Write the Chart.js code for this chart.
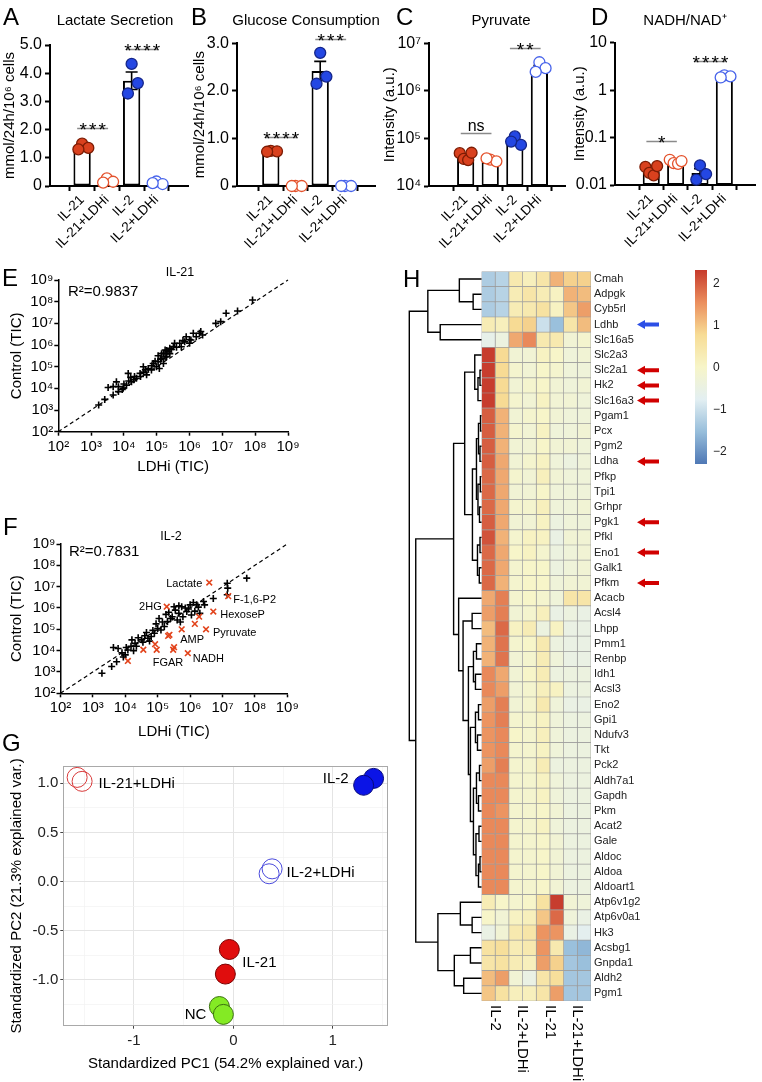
<!DOCTYPE html>
<html><head><meta charset="utf-8">
<script src="https://cdn.jsdelivr.net/npm/chart.js@4.4.1/dist/chart.umd.min.js"></script>
<style>
html,body{margin:0;padding:0;background:#fff;}
#wrap{position:relative;width:762px;height:1082px;overflow:hidden;font-family:"Liberation Sans",Arial,Helvetica,sans-serif;color:#000;background:#fff;}
canvas{position:absolute;}
.t{position:absolute;white-space:nowrap;line-height:1;}
</style></head><body><div id="wrap"></div>
<script>
// ===================== DATA =====================
const barCats = ['IL-21','IL-21+LDHi','IL-2','IL-2+LDHi'];

const lactateMean = [1.38, 0.14, 3.73, 0.08];
const lactateSem  = [0.06, 0.05, 0.31, 0.03];
const lactateDots = [[1.50,1.35,1.30],[0.27,0.15,0.12],[4.33,3.65,3.28],[0.16,0.07,0.10]];
const lactateTicks = [0,1,2,3,4,5];
const lactateSig = [[0,1,2.06,'***'],[2,3,4.85,'****']];

const glucoseMean = [0.72, 0.01, 2.42, 0.01];
const glucoseSem  = [0.02, 0, 0.20, 0];
const glucoseDots = [[0.74,0.73,0.72],[0.0,0.0,0.0],[2.80,2.30,2.15],[0.0,0.0,0.0]];
const glucoseTicks = [0,1,2,3];
const glucoseSig = [[0,1,1.02,'****'],[2,3,3.09,'***']];

const pyruvateMean = [4.1e4, 3.2e4, 8.2e4, 3.0e6];
const pyruvateSem  = [3e3, 1.5e3, 9e3, 4e5];
const pyruvateDots = [[4.9e4,3.7e4,3.5e4,5.0e4],[3.6e4,3.3e4,3.8e4],[1.1e5,7.3e4,8.6e4],[4.0e6,3.0e6,2.5e6]];
const pyruvateTicks = [1e4,1e5,1e6,1e7];
const pyruvateSig = [[0,1,1.32e5,'ns'],[2,3,7.8e6,'**']];

const nadhMean = [0.019, 0.027, 0.018, 1.9];
const nadhSem  = [0.002, 0.0015, 0.004, 0.08];
const nadhDots = [[0.024,0.018,0.016,0.025],[0.034,0.029,0.028,0.032],[0.026,0.017,0.013],[2.05,1.95,1.85]];
const nadhTicks = [0.01,0.1,1,10];
const nadhSig = [[0,1,0.085,'*'],[2,3,4.1,'****']];

const ticTicks = [1e2,1e3,1e4,1e5,1e6,1e7,1e8,1e9];
const diagLine = [1e2, 1e9];

const eLDHi = [1.7e3,2.6e3,4.7e3,6.8e3,3.3e3,4.7e3,6.8e3,9.5e3,1.2e4,1.7e4,
               2.4e4,3.1e4,4.9e4,6.9e4,9.8e4,1.2e5,1.6e5,2.0e5,2.2e5,3.2e5,
               5.0e5,7.1e5,1.1e6,1.3e6,2.2e6,2.5e6,6.3e6,8.9e6,1.3e7,2.9e7,
               8.3e7,5.9e3,1.35e4,2.1e4,3.9e4,5.5e4,7.8e4,1.1e5,1.4e5,1.6e5,
               1.8e5,2.5e5,3.5e5,5.6e5,7.9e5,1.0e6,1.6e6,2.0e6,3.2e4,4.0e4,
               8.9e4,1.1e5,1.4e5,1.8e5,2.0e5,2.5e5,2.8e5,4.0e5,6.3e5,1.0e6,
               1.0e4,1.4e4,2.0e4,8.9e3,1.6e4,4.5e4,7.1e4,1.3e5];
const eCtrl  = [1.7e3,3.1e3,4.9e3,7.1e3,1.1e4,1.2e4,1.2e4,1.0e4,1.4e4,2.0e4,
               2.9e4,4.9e4,4.2e4,7.1e4,1.0e5,8.3e4,1.4e5,2.9e5,4.9e5,8.3e5,
               1.2e6,1.4e6,1.7e6,3.5e6,4.2e6,2.9e6,1.0e7,1.2e7,2.9e7,3.7e7,
               1.2e8,2.0e4,4.9e4,3.5e4,1.0e5,8.3e4,1.4e5,1.7e5,2.4e5,4.1e5,
               5.9e5,7.1e5,1.2e6,8.3e5,2.4e6,1.2e6,2.4e6,3.5e6,3.5e4,5.6e4,
               1.8e5,3.2e5,4.0e5,2.8e5,5.6e5,4.0e5,6.3e5,7.9e5,1.6e6,1.8e6,
               1.6e4,2.2e4,2.5e4,8.9e3,3.2e4,7.1e4,1.1e5,2.2e5];

const fLDHi = [5.6e7,1.4e7,1.45e7,1.4e7,5.2e6,2.6e6,1.6e6,1.0e6,7.9e5,5.5e5,
               3.2e5,4.5e5,2.8e5,2.0e5,1.6e5,1.0e5,7.9e4,6.3e4,5.0e4,3.2e4,
               2.0e4,1.6e4,1.26e5,1.1e6,2.0e6,4.0e5,6.0e5,1.9e3,3.8e3,5.4e3,
               8.7e3,1.2e4,4.3e3,6.0e3,1.07e4,1.5e4,2.2e5,3.5e5,7.1e5,1.26e6,
               1.8e6,8.9e5,4.5e5,2.5e5,1.4e5,1.8e5,8.9e4,7.1e4,4.0e4,2.5e4,
               2.2e4,3.5e4,4.5e4,1.1e5,5.0e5,1.4e6,2.8e6,5.6e4,1.8e4,7.9e3,1.0e4];
const fCtrl  = [2.5e7,1.45e7,8.5e6,4.2e6,2.8e6,2.0e6,1.4e6,1.4e6,6.8e5,1.15e6,
               1.15e6,5.6e5,3.9e5,2.3e5,1.35e5,1.1e5,6.5e4,4.6e4,3.8e4,3.2e4,
               2.2e4,3.2e4,9.3e4,4.7e5,5.6e5,2.75e5,3.9e5,8.7e2,1.8e3,3.0e3,
               5.0e3,1.07e4,1.4e4,1.26e4,1.4e4,1.6e4,6.3e5,7.9e5,1.0e6,1.8e6,
               1.1e6,8.9e5,1.26e6,3.2e5,2.2e5,5.0e5,1.8e5,8.9e4,5.0e4,4.0e4,
               1.6e4,2.5e4,7.1e4,3.2e5,2.2e5,7.1e5,1.4e6,2.8e4,1.0e4,7.9e3,6.3e3];
const fRedNames = ['Lactate','F-1,6-P2','HexoseP','Pyruvate','2HG','AMP','FGAR','NADH'];
const fRedLDHi = [3.9e6,1.5e7,5.2e6,3.1e6,1.9e5,2.1e5,9.3e4,8.5e5,1.2e4,5.5e5,1.4e6,1.9e6,8.3e4,3.6e4,3.0e5,3.2e5,2.3e5];
const fRedCtrl = [1.55e7,3.6e6,6.8e5,1.0e5,1.15e6,4.9e4,1.1e4,7.6e3,3.3e3,1.0e5,1.8e5,3.9e5,2.0e4,1.1e4,1.1e4,1.45e4,5.5e4];

const pcaGroups = ['IL-21+LDHi','IL-2','IL-2+LDHi','IL-21','NC'];
const pcaPC1 = [[-1.57,-1.52],[1.41,1.31],[0.39,0.36],[-0.04,-0.08],[-0.14,-0.10]];
const pcaPC2 = [[1.06,1.02],[1.05,0.98],[0.13,0.08],[-0.69,-0.94],[-1.27,-1.35]];
const pcaXTicks = [-1,0,1];
const pcaXMinor = [-1.5,-0.5,0.5,1.5];
const pcaYTicks = [-1.0,-0.5,0.0,0.5,1.0];
const pcaYMinor = [-1.25,-0.75,-0.25,0.25,0.75];

const genes = ['Cmah','Adpgk','Cyb5rl','Ldhb','Slc16a5','Slc2a3','Slc2a1','Hk2','Slc16a3','Pgam1',
  'Pcx','Pgm2','Ldha','Pfkp','Tpi1','Grhpr','Pgk1','Pfkl','Eno1','Galk1','Pfkm','Acacb','Acsl4',
  'Lhpp','Pmm1','Renbp','Idh1','Acsl3','Eno2','Gpi1','Ndufv3','Tkt','Pck2','Aldh7a1','Gapdh','Pkm',
  'Acat2','Gale','Aldoc','Aldoa','Aldoart1','Atp6v1g2','Atp6v0a1','Hk3','Acsbg1','Gnpda1','Aldh2','Pgm1'];
const heatCols = ['IL-2','IL-2','IL-2+LDHi','IL-2+LDHi','IL-21','IL-21','IL-21+LDHi','IL-21+LDHi'];
const heat = [
 [-1.3,-1.2, 0.4, 0.2, 0.5, 1.2, 0.9, 0.9],
 [-1.3,-1.2, 0.3, 0.5, 0.3, 0.1, 1.2, 1.1],
 [-1.3,-1.2, 0.3, 0.4, 0.6, 0.1, 1.0, 1.4],
 [ 0.3, 0.2, 0.8, 0.9,-1.0,-1.5, 0.5, 1.1],
 [-0.6,-0.4, 1.3, 1.6, 0.4, 0.4,-0.2,-0.1],
 [ 2.3, 0.8,-0.2,-0.2, 0.1, 0.0,-0.3,-0.2],
 [ 2.3, 0.8,-0.1,-0.2, 0.0,-0.1,-0.3,-0.3],
 [ 2.3, 0.8,-0.2,-0.1, 0.0,-0.2,-0.3,-0.2],
 [ 2.3, 0.8,-0.1,-0.2, 0.1,-0.2,-0.2,-0.3],
 [ 2.0, 1.2,-0.2,-0.1, 0.0,-0.2,-0.3,-0.3],
 [ 2.0, 1.2,-0.1,-0.2, 0.1,-0.3,-0.3,-0.2],
 [ 2.0, 1.2,-0.2,-0.2, 0.0,-0.2,-0.2,-0.3],
 [ 2.0, 1.3,-0.2,-0.1, 0.1,-0.3,-0.4,-0.3],
 [ 1.9, 1.3,-0.1,-0.2, 0.2,-0.2,-0.3,-0.3],
 [ 1.9, 1.3,-0.2,-0.2, 0.0,-0.3,-0.3,-0.3],
 [ 1.9, 1.3,-0.1,-0.1, 0.2,-0.3,-0.3,-0.2],
 [ 2.0, 1.3,-0.2,-0.2, 0.1,-0.4,-0.3,-0.3],
 [ 2.1, 1.2,-0.1, 0.1, 0.1,-0.5,-0.2,-0.2],
 [ 1.9, 1.3, 0.0, 0.1,-0.1,-0.4,-0.3,-0.2],
 [ 1.9, 1.3,-0.1, 0.0, 0.0,-0.4,-0.3,-0.2],
 [ 1.9, 1.2,-0.1, 0.0, 0.0,-0.3,-0.2,-0.2],
 [ 1.3, 1.7,-0.1, 0.0,-0.1,-0.3, 0.5, 0.5],
 [ 1.4, 1.7,-0.2,-0.1, 0.2,-0.5,-0.4,-0.5],
 [ 1.1, 1.9, 0.1, 0.3,-0.4, 0.1,-0.5,-0.5],
 [ 1.2, 1.8,-0.1, 0.0, 0.4,-0.4,-0.5,-0.5],
 [ 1.2, 1.8,-0.2,-0.1, 0.3,-0.3,-0.5,-0.5],
 [ 1.6, 1.3,-0.2, 0.0, 0.3,-0.4,-0.4,-0.4],
 [ 1.6, 1.4,-0.2,-0.1, 0.2, 0.1,-0.4,-0.4],
 [ 1.4, 1.7,-0.2,-0.1, 0.4,-0.3,-0.5,-0.5],
 [ 1.5, 1.7,-0.1,-0.1, 0.1,-0.3,-0.4,-0.4],
 [ 1.5, 1.6, 0.0,-0.1, 0.2,-0.3,-0.4,-0.4],
 [ 1.5, 1.6,-0.1,-0.1, 0.1,-0.3,-0.4,-0.4],
 [ 1.4, 1.7,-0.1,-0.1, 0.3,-0.4,-0.4,-0.4],
 [ 1.6, 1.6,-0.1,-0.1, 0.1,-0.3,-0.4,-0.4],
 [ 1.6, 1.6,-0.1,-0.1, 0.1,-0.3,-0.4,-0.4],
 [ 1.6, 1.5,-0.1,-0.1, 0.0,-0.2,-0.4,-0.4],
 [ 1.6, 1.6,-0.1,-0.1, 0.1,-0.3,-0.4,-0.4],
 [ 1.6, 1.6,-0.1,-0.1, 0.0,-0.2,-0.4,-0.4],
 [ 1.6, 1.6,-0.1,-0.1, 0.0,-0.2,-0.4,-0.4],
 [ 1.6, 1.6,-0.1,-0.1, 0.0,-0.2,-0.4,-0.4],
 [ 1.6, 1.6,-0.1,-0.1, 0.0,-0.2,-0.4,-0.4],
 [ 0.3, 0.0,-0.1, 0.0, 0.6, 2.3,-0.2,-0.3],
 [ 0.0,-0.2, 0.1, 0.2, 1.0, 1.9,-0.3,-0.5],
 [-0.5,-0.2, 0.4, 0.5, 1.5, 1.5,-0.5,-0.7],
 [ 0.6, 0.7, 0.3, 0.4, 1.5, 0.4,-1.5,-1.6],
 [ 0.5, 0.6, 0.3, 0.2, 1.4, 0.9,-1.4,-1.5],
 [ 1.1, 1.4,-0.2,-0.5, 0.5, 0.7,-1.4,-1.4],
 [ 1.0, 0.6, 0.2, 0.2, 0.5, 1.4,-1.4,-1.4]
];
const heatRange = [-2.3, 2.33];
const legendTicks = [-2,-1,0,1,2];
// hclust-style merges: negative = leaf row number, positive = earlier merge step; third = height
const dendroMerge = [
 [-2,-3,8.3],[-1,1,22],[-4,-5,41],[2,3,53.3],
 [-7,-8,1.5],[5,-9,3.5],[-6,6,6.7],
 [-10,-11,1.0],[-12,-13,1.5],[8,9,3],[-14,-15,1.2],[-16,-17,2.0],[11,12,3.5],
 [-18,-19,1.5],[-20,-21,2.2],[14,15,4],[10,13,5],[17,16,9],[7,18,16.7],
 [-23,-24,9.3],[-25,-26,5],[-27,-28,6],[21,22,8],[-29,-30,3],[-31,-32,4],[24,25,6],
 [-33,-34,2],[-35,-36,3],[27,28,5],[-37,-38,2.5],[-39,-40,1.5],[31,-41,3],[30,32,5.5],
 [29,33,8],[26,34,11],[23,35,13],[20,36,18.3],[-22,37,22.7],[19,38,27.7],
 [-43,-44,9.3],[-42,40,21],[-45,-46,11],[-47,-48,17.7],[42,43,27],[41,44,43.3],
 [39,45,65.3],[4,46,71.7]
];
const arrowGenes = ['Ldhb','Slc2a1','Hk2','Slc16a3','Ldha','Pgk1','Eno1','Pfkm'];
const arrowKinds = ['blue','red','red','red','red','red','red','red'];

// ===================== STYLE =====================
const FONT = '"Liberation Sans", Arial, Helvetica, sans-serif';
const DOT_STYLE = [
  {fill:'#d9411e', stroke:'#7d1c04'},
  {fill:'#ffffff', stroke:'#e4522c'},
  {fill:'#2447e3', stroke:'#15268a'},
  {fill:'#ffffff', stroke:'#4763ea'}
];
const JITTER = {2:[-0.08,0.08], 3:[0,0.25,-0.15], 4:[-0.24,-0.08,0.1,0.24]};
const PCA_STYLE = [
  {fill:'rgba(0,0,0,0)', stroke:'#d83a3a'},
  {fill:'#0b14e6', stroke:'#06087a'},
  {fill:'rgba(0,0,0,0)', stroke:'#4a4adc'},
  {fill:'#e00d0d', stroke:'#7a0000'},
  {fill:'#84ea24', stroke:'#3b7010'}
];
const PCA_LABEL_OFF = [[19,4,'left'],[-20,-3,'right'],[16,1.5,'left'],[15,1.5,'left'],[-15,4,'right']];
const F_LABEL_OFF = [[-7,1,'right'],[5,4,'left'],[7,3,'left'],[7,4,'left'],[-5,0,'right'],[12,4,'left'],[-4,13,'left'],[5,6,'left']];
const PAL = ['#4f78b5','#97bedb','#e3eff2','#f7f5c8','#f7dc95','#eb8e5d','#c63a2c'];
const ARROW_COL = {blue:'#2c4fe6', red:'#d10000'};

Chart.defaults.animation = false;
Chart.defaults.responsive = false;
Chart.defaults.maintainAspectRatio = false;
Chart.defaults.devicePixelRatio = 1;
Chart.defaults.font.family = FONT;
Chart.defaults.color = '#000';
Chart.defaults.plugins.legend.display = false;
Chart.defaults.plugins.tooltip.enabled = false;
Chart.defaults.events = [];

const wrap = document.getElementById('wrap');
function makeCanvas(b){
  const c = document.createElement('canvas');
  c.width = b.w; c.height = b.h;
  c.style.left = b.x+'px'; c.style.top = b.y+'px';
  c.style.width = b.w+'px'; c.style.height = b.h+'px';
  wrap.appendChild(c); return c;
}
function fit(b,p){ return {pad:{left:0, top:p.t-b.y, right:b.x+b.w-p.r, bottom:0}, yW:p.l-b.x, xH:b.y+b.h-p.b}; }
const fixW = w => s => { s.width = w; s.paddingTop=0; s.paddingBottom=0; s.paddingLeft=0; s.paddingRight=0; };
const fixH = h => s => { s.height = h; s.paddingTop=0; s.paddingBottom=0; s.paddingLeft=0; s.paddingRight=0; };
const SUP = {'0':'\u2070','1':'\u00b9','2':'\u00b2','3':'\u00b3','4':'\u2074','5':'\u2075','6':'\u2076','7':'\u2077','8':'\u2078','9':'\u2079','-':'\u207b'};
function pow10(v){ const e = Math.round(Math.log10(v)); return '10'+String(e).split('').map(c=>SUP[c]).join(''); }

function hexToRgb(h){ return [parseInt(h.slice(1,3),16),parseInt(h.slice(3,5),16),parseInt(h.slice(5,7),16)]; }
function heatColor(v){
  let f = (v-heatRange[0])/(heatRange[1]-heatRange[0]);
  f = Math.max(0, Math.min(1, f));
  const p = f*(PAL.length-1), i = Math.min(Math.floor(p), PAL.length-2), t = p-i;
  const a = hexToRgb(PAL[i]), b = hexToRgb(PAL[i+1]);
  return 'rgb('+a.map((c,k)=>Math.round(c+(b[k]-c)*t)).join(',')+')';
}

function label(text, x, y, size, align, color){
  const d = document.createElement('div');
  d.className = 't'; d.textContent = text;
  d.style.fontSize = size+'px';
  d.style.top = (y - size*0.49)+'px';
  if (color) d.style.color = color;
  if (align === 'center'){ d.style.left = x+'px'; d.style.transform = 'translateX(-50%)'; }
  else if (align === 'right'){ d.style.right = (762-x)+'px'; }
  else d.style.left = x+'px';
  wrap.appendChild(d);
}

// ===================== BAR PANELS A-D =====================
function drawErr(chart, mean, sem){
  const {ctx} = chart, xs = chart.scales.x, ys = chart.scales.y;
  ctx.save(); ctx.strokeStyle = '#000'; ctx.lineWidth = 1.6;
  mean.forEach((m,i)=>{
    const e = sem[i]; if (!e) return;
    const px = xs.getPixelForValue(i);
    const yt = ys.getPixelForValue(m+e), yb = ys.getPixelForValue(m-e);
    ctx.beginPath();
    ctx.moveTo(px,yb); ctx.lineTo(px,yt);
    ctx.moveTo(px-6,yt); ctx.lineTo(px+6,yt);
    ctx.moveTo(px-6,yb); ctx.lineTo(px+6,yb);
    ctx.stroke();
  });
  ctx.restore();
}
function drawSig(chart, sig){
  const {ctx} = chart, xs = chart.scales.x, ys = chart.scales.y;
  ctx.save();
  sig.forEach(([i,j,v,lab])=>{
    const y = Math.round(ys.getPixelForValue(v))+0.5;
    const x0 = xs.getPixelForValue(i-0.2), x1 = xs.getPixelForValue(j+0.05);
    ctx.strokeStyle = '#8a8a8a'; ctx.lineWidth = 1.5;
    ctx.beginPath(); ctx.moveTo(x0,y); ctx.lineTo(x1,y); ctx.stroke();
    ctx.fillStyle = '#000'; ctx.textAlign = 'center'; ctx.textBaseline = 'alphabetic';
    const cx = (x0+x1)/2;
    if (lab[0] === '*'){
      ctx.font = '19px '+FONT;
      const n = lab.length;
      for (let k=0;k<n;k++) ctx.fillText('*', cx+(k-(n-1)/2)*9.5, y+7);
    } else {
      ctx.font = '16px '+FONT;
      ctx.fillText(lab, cx, y-3);
    }
  });
  ctx.restore();
}
function axisLook(w, len){ return {grid:{drawOnChartArea:false, drawTicks:true, tickLength:len, tickWidth:w, tickColor:'#000'}, border:{display:true, color:'#000', width:w}}; }

function barPanel(o){
  const f = fit(o.box, o.plot);
  const cv = makeCanvas(o.box);
  const pts=[], bg=[], bc=[];
  o.dots.forEach((arr,i)=>{
    const jit = JITTER[arr.length] || JITTER[3];
    arr.forEach((v,j)=>{ pts.push({x:i+jit[j], y:v}); bg.push(DOT_STYLE[i].fill); bc.push(DOT_STYLE[i].stroke); });
  });
  new Chart(cv, {
    type:'bar',
    data:{datasets:[
      {type:'bar', data:o.mean.map((v,i)=>({x:i,y:v})), backgroundColor:'#fff', borderColor:'#000', borderWidth:2, borderSkipped:false, barPercentage:0.7, categoryPercentage:1, order:2},
      {type:'scatter', data:pts, backgroundColor:bg, borderColor:bc, borderWidth:1.3, pointRadius:5.5, clip:false, order:1}
    ]},
    options:{
      layout:{padding:f.pad, autoPadding:false},
      scales:{
        x:Object.assign({type:'linear', min:o.xr[0], max:o.xr[1], afterFit:fixH(f.xH),
           afterBuildTicks:s=>{ s.ticks = barCats.map((c,i)=>({value:i})); },
           ticks:{callback:v=>barCats[v], minRotation:45, maxRotation:45, autoSkip:false, font:{size:13.5}, color:'#000', padding:1}}, axisLook(2,5)),
        y:Object.assign({type:o.scale, min:o.yr[0], max:o.yr[1], afterFit:fixW(f.yW),
           afterBuildTicks:s=>{ s.ticks = o.ticks.map(v=>({value:v})); },
           ticks:{callback:o.fmt, autoSkip:false, font:{size:16}, color:'#000', padding:3},
           title:{display:true, text:o.ytitle, font:{size:15}, color:'#000', padding:{top:o.ytPad, bottom:0}}}, axisLook(2,5))
      }
    },
    plugins:[{id:'ann', afterDatasetDraw(chart,args){ if(args.index===0) drawErr(chart,o.mean,o.sem); }, afterDatasetsDraw(chart){ drawSig(chart,o.sig); }}]
  });
}
const fmtLin = v => v===0 ? '0' : v.toFixed(1);
barPanel({box:{x:0,y:28,w:190,h:232}, plot:{l:50,t:45,r:188,b:186}, xr:[-0.6,3.58], scale:'linear', yr:[0,5],
  ticks:lactateTicks, fmt:fmtLin, mean:lactateMean, sem:lactateSem, dots:lactateDots, sig:lactateSig, ytitle:'mmol/24h/10\u2076 cells', ytPad:1});
barPanel({box:{x:190,y:28,w:188,h:232}, plot:{l:237,t:43.3,r:375,b:186}, xr:[-0.67,3.52], scale:'linear', yr:[0,3],
  ticks:glucoseTicks, fmt:fmtLin, mean:glucoseMean, sem:glucoseSem, dots:glucoseDots, sig:glucoseSig, ytitle:'mmol/24h/10\u2076 cells', ytPad:1});
barPanel({box:{x:380,y:28,w:190,h:232}, plot:{l:429,t:43.3,r:565,b:186}, xr:[-0.8,3.35], scale:'logarithmic', yr:[1e4,1e7],
  ticks:pyruvateTicks, fmt:pow10, mean:pyruvateMean, sem:pyruvateSem, dots:pyruvateDots, sig:pyruvateSig, ytitle:'Intensity (a.u.)', ytPad:1});
barPanel({box:{x:570,y:28,w:192,h:232}, plot:{l:615,t:42.7,r:755,b:185}, xr:[-0.77,3.54], scale:'logarithmic', yr:[0.01,10],
  ticks:nadhTicks, fmt:v=>String(v), mean:nadhMean, sem:nadhSem, dots:nadhDots, sig:nadhSig, ytitle:'Intensity (a.u.)', ytPad:1});

// ===================== TIC PANELS E-F =====================
function ticPanel(o){
  const f = fit(o.box, o.plot);
  const cv = makeCanvas(o.box);
  const ds = [
    {type:'line', data:diagLine.map(v=>({x:v,y:v})), borderColor:'#000', borderWidth:1.2, borderDash:[4,3], pointRadius:0, fill:false, clip:false, order:3},
    {type:'scatter', data:o.x.map((v,i)=>({x:v,y:o.y[i]})), pointStyle:'cross', pointRadius:3.5, borderColor:'#000', backgroundColor:'#000', borderWidth:1.6, clip:false, order:2}
  ];
  if (o.rx) ds.push({type:'scatter', data:o.rx.map((v,i)=>({x:v,y:o.ry[i]})), pointStyle:'crossRot', pointRadius:4, borderColor:'#e2431b', backgroundColor:'#e2431b', borderWidth:1.6, clip:false, order:1});
  const ax = (title, pad, isX, fitFn) => Object.assign({type:'logarithmic', min:1e2, max:1e9, afterFit:fitFn,
    afterBuildTicks:s=>{ s.ticks = ticTicks.map(v=>({value:v})); },
    ticks:{callback:pow10, autoSkip:false, maxRotation:0, minRotation:0, font:{size:15}, color:'#000', padding:isX?2:1},
    title:{display:true, text:title, font:{size:15}, color:'#000', padding:pad}}, axisLook(1.5,4));
  const plugins = [];
  if (o.rx) plugins.push({id:'flab', afterDatasetsDraw(chart){
    const {ctx} = chart, xs = chart.scales.x, ys = chart.scales.y;
    ctx.save(); ctx.font = '11px '+FONT; ctx.fillStyle = '#000'; ctx.textBaseline = 'middle';
    fRedNames.forEach((n,i)=>{
      const [dx,dy,al] = F_LABEL_OFF[i];
      ctx.textAlign = al;
      ctx.fillText(n, xs.getPixelForValue(o.rx[i])+dx, ys.getPixelForValue(o.ry[i])+dy);
    });
    ctx.restore();
  }});
  new Chart(cv, {type:'scatter', data:{datasets:ds},
    options:{layout:{padding:f.pad, autoPadding:false},
      scales:{x:ax('LDHi (TIC)', {top:2,bottom:o.xtb}, true, fixH(f.xH)), y:ax('Control (TIC)', {top:o.ytp,bottom:0}, false, fixW(f.yW))}},
    plugins});
}
ticPanel({box:{x:0,y:262,w:300,h:218}, plot:{l:58.3,t:280,r:288,b:431.7}, x:eLDHi, y:eCtrl, xtb:4, ytp:8});
ticPanel({box:{x:0,y:525,w:300,h:220}, plot:{l:60.5,t:544,r:287.3,b:693.3}, x:fLDHi, y:fCtrl, rx:fRedLDHi, ry:fRedCtrl, xtb:4, ytp:8});

// ===================== PCA PANEL G =====================
(function(){
  const box = {x:0,y:755,w:395,h:327}, plot = {l:63.3,t:766,r:388,b:1025.7};
  const f = fit(box, plot), cv = makeCanvas(box);
  const isMajX = v => pcaXTicks.includes(v), isMajY = v => pcaYTicks.includes(v);
  const gridOf = isMaj => ({drawOnChartArea:true, drawTicks:true, tickLength:3,
    color:c=> isMaj(c.tick.value) ? '#e4e4e4' : '#f2f2f2',
    lineWidth:c=> isMaj(c.tick.value) ? 1 : 0.7,
    tickColor:c=> isMaj(c.tick.value) ? '#444' : 'rgba(0,0,0,0)', tickWidth:1});
  new Chart(cv, {type:'scatter',
    data:{datasets: pcaGroups.map((g,k)=>({data:pcaPC1[k].map((v,i)=>({x:v,y:pcaPC2[k][i]})),
      backgroundColor:PCA_STYLE[k].fill, borderColor:PCA_STYLE[k].stroke, borderWidth:1, pointRadius:10, clip:false}))},
    options:{layout:{padding:f.pad, autoPadding:false},
      scales:{
        x:{type:'linear', min:-1.709, max:1.555, afterFit:fixH(f.xH),
           afterBuildTicks:s=>{ s.ticks = pcaXMinor.concat(pcaXTicks).sort((a,b)=>a-b).map(v=>({value:v})); },
           ticks:{callback:v=> isMajX(v) ? String(v) : '', autoSkip:false, maxRotation:0, font:{size:15}, color:'#222', padding:3},
           grid:gridOf(isMajX), border:{display:false},
           title:{display:true, text:'Standardized PC1 (54.2% explained var.)', font:{size:15}, color:'#000', padding:{top:2,bottom:9}}},
        y:{type:'linear', min:-1.465, max:1.176, afterFit:fixW(f.yW),
           afterBuildTicks:s=>{ s.ticks = pcaYMinor.concat(pcaYTicks).sort((a,b)=>a-b).map(v=>({value:v})); },
           ticks:{callback:v=> isMajY(v) ? v.toFixed(1) : '', autoSkip:false, font:{size:15}, color:'#222', padding:2},
           grid:gridOf(isMajY), border:{display:false},
           title:{display:true, text:'Standardized PC2 (21.3% explained var.)', font:{size:15}, color:'#000', padding:{top:8,bottom:0}}}
      }},
    plugins:[{id:'pcaBox', afterDatasetsDraw(chart){
      const {ctx, chartArea:ca} = chart, xs = chart.scales.x, ys = chart.scales.y;
      ctx.save(); ctx.strokeStyle = '#a9a9a9'; ctx.lineWidth = 1;
      ctx.strokeRect(Math.round(ca.left)+0.5, Math.round(ca.top)+0.5, Math.round(ca.right-ca.left)-1, Math.round(ca.bottom-ca.top)-1);
      ctx.font = '15px '+FONT; ctx.fillStyle = '#000'; ctx.textBaseline = 'middle';
      pcaGroups.forEach((g,k)=>{
        const mx = pcaPC1[k].reduce((a,b)=>a+b,0)/pcaPC1[k].length, my = pcaPC2[k].reduce((a,b)=>a+b,0)/pcaPC2[k].length;
        const [dx,dy,al] = PCA_LABEL_OFF[k];
        ctx.textAlign = al;
        ctx.fillText(g, xs.getPixelForValue(mx)+dx, ys.getPixelForValue(my)+dy);
      });
      ctx.restore();
    }}]
  });
})();

// ===================== HEATMAP H =====================
(function(){
  const box = {x:470,y:262,w:220,h:820};
  const cv = makeCanvas(box);
  new Chart(cv, {type:'bar',
    data:{labels:genes, datasets: heatCols.map((c,ci)=>({
      data: genes.map(()=>[ci, ci+1]),
      backgroundColor: heat.map(r=>heatColor(r[ci])),
      borderColor:'#9d9d9d', borderWidth:0.7, borderSkipped:false,
      barPercentage:1, categoryPercentage:1, grouped:false}))},
    options:{indexAxis:'y', layout:{padding:{left:11.5, top:9.4, right:0, bottom:81}, autoPadding:false},
      scales:{
        x:{type:'linear', min:0, max:heatCols.length, display:false},
        y:{type:'category', position:'right', offset:true, afterFit:fixW(99),
           grid:{display:false, drawTicks:false}, border:{display:false},
           ticks:{autoSkip:false, font:{size:11}, color:'#222', padding:3}}
      }},
    plugins:[{id:'hmExtra', afterDatasetsDraw(chart){
      const {ctx, chartArea:ca} = chart, xs = chart.scales.x, ys = chart.scales.y;
      ctx.save();
      // column group labels (rotated, reading downward)
      ctx.font = '15px '+FONT; ctx.fillStyle = '#000'; ctx.textAlign = 'left'; ctx.textBaseline = 'middle';
      for (let c=0; c<heatCols.length; c+=2){
        const cx = xs.getPixelForValue(c+1);
        ctx.save(); ctx.translate(cx, ca.bottom+4); ctx.rotate(Math.PI/2); ctx.fillText(heatCols[c], 0, 0); ctx.restore();
      }
      // arrows
      arrowGenes.forEach((g,i)=>{
        const y = ys.getPixelForValue(genes.indexOf(g));
        const tip = ca.right+46, tail = ca.right+68;
        ctx.fillStyle = ARROW_COL[arrowKinds[i]];
        ctx.beginPath();
        ctx.moveTo(tip, y);
        ctx.lineTo(tip+8, y-4.5);
        ctx.lineTo(tip+8, y-2);
        ctx.lineTo(tail, y-2);
        ctx.lineTo(tail, y+2);
        ctx.lineTo(tip+8, y+2);
        ctx.lineTo(tip+8, y+4.5);
        ctx.closePath(); ctx.fill();
      });
      ctx.restore();
    }}]
  });
})();

// ===================== DENDROGRAM =====================
function dendroSegments(merges){
  const nodes = [], segs = [];
  const yOf = id => id < 0 ? (-id - 0.5) : nodes[id-1].y;
  const hOf = id => id < 0 ? 0 : nodes[id-1].h;
  merges.forEach(([a,b,h])=>{
    const ya = yOf(a), yb = yOf(b);
    nodes.push({y:(ya+yb)/2, h});
    segs.push([{x:hOf(a),y:ya},{x:h,y:ya},{x:h,y:yb},{x:hOf(b),y:yb}]);
  });
  return segs;
}
(function(){
  const box = {x:400,y:262,w:84,h:748};
  const cv = makeCanvas(box);
  const segs = dendroSegments(dendroMerge);
  const hmax = Math.max(...dendroMerge.map(m=>m[2]));
  new Chart(cv, {type:'line',
    data:{datasets: segs.map(s=>({data:s, borderColor:'#000', borderWidth:1.4, pointRadius:0, tension:0, fill:false, clip:false}))},
    options:{layout:{padding:{left:9.3, right:2.5, top:9.4, bottom:9}, autoPadding:false},
      scales:{x:{type:'linear', reverse:true, min:0, max:hmax, display:false},
              y:{type:'linear', reverse:true, min:0, max:genes.length, display:false}}}
  });
})();

// ===================== COLOR LEGEND =====================
(function(){
  const box = {x:688,y:262,w:60,h:210};
  const cv = makeCanvas(box);
  new Chart(cv, {type:'bar',
    data:{labels:[''], datasets:[{data:[heatRange], borderWidth:0, barPercentage:1, categoryPercentage:1,
      backgroundColor:(c)=>{
        const ch = c.chart, ys = ch.scales.y;
        if (!ys || !ch.chartArea) return '#ccc';
        const g = ch.ctx.createLinearGradient(0, ys.getPixelForValue(heatRange[0]), 0, ys.getPixelForValue(heatRange[1]));
        PAL.forEach((col,k)=>g.addColorStop(k/(PAL.length-1), col));
        return g;
      }}]},
    options:{layout:{padding:{left:7, top:8, bottom:8, right:0}, autoPadding:false},
      scales:{x:{display:false},
        y:{type:'linear', position:'right', min:heatRange[0], max:heatRange[1], afterFit:fixW(box.x+box.w-707),
           afterBuildTicks:s=>{ s.ticks = legendTicks.map(v=>({value:v})); },
           ticks:{callback:v=> v<0 ? '\u2212'+(-v) : String(v), font:{size:12}, color:'#222', padding:6},
           grid:{display:false, drawTicks:false}, border:{display:false}}}}
  });
})();

// ===================== TEXT =====================
label('A', 3, 16.5, 24);
label('Lactate Secretion', 115, 19.5, 15, 'center');
label('B', 191, 16.5, 24);
label('Glucose Consumption', 306, 19.5, 15, 'center');
label('C', 396, 16.5, 24);
label('Pyruvate', 501, 19.5, 15, 'center');
label('D', 591, 16.5, 24);
label('NADH/NAD\u207a', 685, 19.5, 15, 'center');
label('E', 2, 278, 24);
label('IL-21', 180, 272, 12.5, 'center');
label('R\u00b2=0.9837', 68, 290.8, 15);
label('F', 3, 527, 24);
label('IL-2', 171, 535.8, 12.5, 'center');
label('R\u00b2=0.7831', 69, 550.7, 15);
label('G', 2, 743, 24);
label('H', 403, 278.7, 24);
</script></body></html>
